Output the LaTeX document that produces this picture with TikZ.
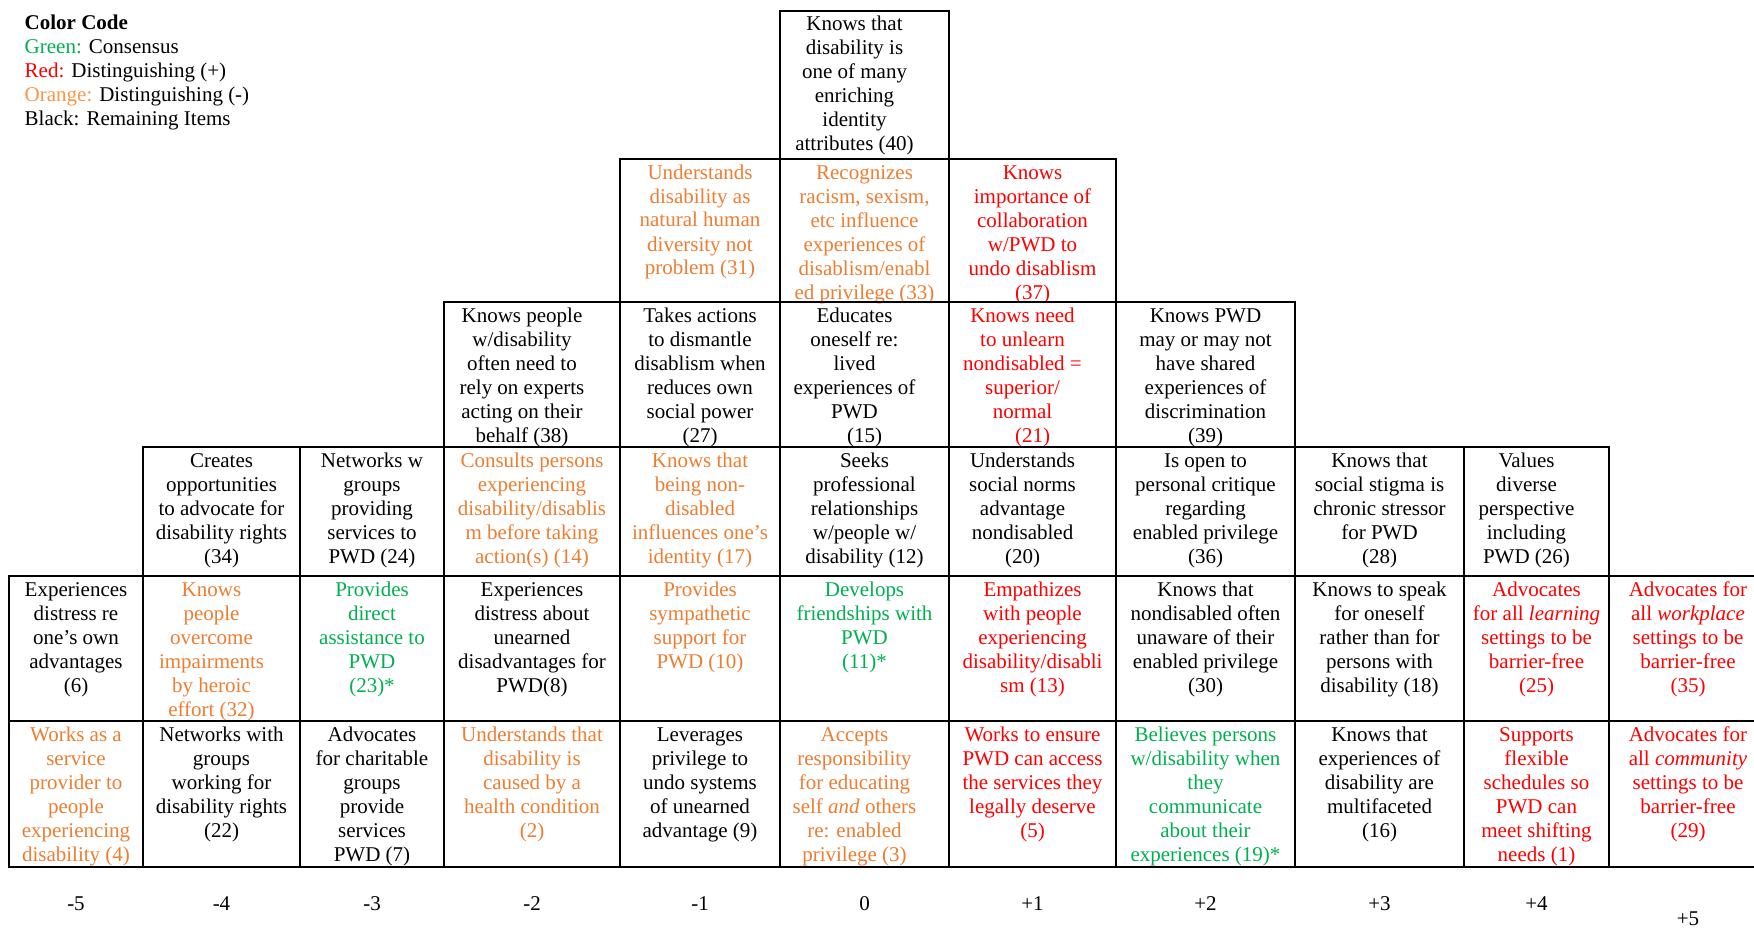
\documentclass[tikz,border=0pt]{standalone}
\usepackage{fontspec}
\setmainfont{Liberation Serif}
\definecolor{qgreen}{HTML}{00B050}
\definecolor{qred}{HTML}{FF0000}
\definecolor{qorange}{HTML}{ED7D31}
\definecolor{qlegorange}{HTML}{F79646}
\newcommand\qcell[5]{\node[cell,text=#4] (#1) at (#2,#3+3) {\strut #5};}
\begin{document}
\begin{tikzpicture}[x=1pt,y=-1pt,
  cell/.style={anchor=north,align=center,inner sep=0pt,font=\fontsize{21}{24}\selectfont},
  grid/.style={line width=2pt,black},
  lab/.style={anchor=base,inner sep=0pt,font=\fontsize{21}{24}\selectfont},
  leg/.style={anchor=base west,inner sep=0pt,font=\fontsize{21}{24}\selectfont}]
\useasboundingbox (0,0) rectangle (1754,928);
\clip (0,0) rectangle (1754,928);

% Legend
\node[leg] (legtitle) at (24.5,30) {\textbf{Color Code}};
\node[leg] (leggreen) at (24.5,54) {\textcolor{qgreen}{Green:} Consensus};
\node[leg] (legred) at (24.5,78) {\textcolor{qred}{Red:} Distinguishing (+)};
\node[leg] (legorange) at (24.5,102) {\textcolor{qlegorange}{Orange:} Distinguishing (-)};
\node[leg] (legblack) at (24.5,126) {Black: Remaining Items};

% Column -5
\qcell{n6}{76}{576}{black}{Experiences\\distress re\\one’s own\\advantages\\(6)}
\qcell{n4}{76}{721}{qorange}{Works as a\\service\\provider to\\people\\experiencing\\disability (4)}
% Column -4
\qcell{n34}{221.5}{447}{black}{Creates\\opportunities\\to advocate for\\disability rights\\(34)}
\qcell{n32}{211.5}{576}{qorange}{Knows\\people\\overcome\\impairments\\by heroic\\effort (32)}
\qcell{n22}{221.5}{721}{black}{Networks with\\groups\\working for\\disability rights\\(22)}
% Column -3
\qcell{n24}{372}{447}{black}{Networks w\\groups\\providing\\services to\\PWD (24)}
\qcell{n23}{372}{576}{qgreen}{Provides\\direct\\assistance to\\PWD\\(23)*}
\qcell{n7}{372}{721}{black}{Advocates\\for charitable\\groups\\provide\\services\\PWD (7)}
% Column -2
\qcell{n38}{522}{302}{black}{Knows people\\w/disability\\often need to\\rely on experts\\acting on their\\behalf (38)}
\qcell{n14}{532}{447}{qorange}{Consults persons\\experiencing\\disability/disablis\\m before taking\\action(s) (14)}
\qcell{n8}{532}{576}{black}{Experiences\\distress about\\unearned\\disadvantages for\\PWD(8)}
\qcell{n2}{532}{721}{qorange}{Understands that\\disability is\\caused by a\\health condition\\(2)}
% Column -1
\qcell{n31}{700}{159}{qorange}{Understands\\disability as\\natural human\\diversity not\\problem (31)}
\qcell{n27}{700}{302}{black}{Takes actions\\to dismantle\\disablism when\\reduces own\\social power\\(27)}
\qcell{n17}{700}{447}{qorange}{Knows that\\being non-\\disabled\\influences one’s\\identity (17)}
\qcell{n10}{700}{576}{qorange}{Provides\\sympathetic\\support for\\PWD (10)}
\qcell{n9}{700}{721}{black}{Leverages\\privilege to\\undo systems\\of unearned\\advantage (9)}
% Column 0
\qcell{n40}{854.5}{11}{black}{Knows that\\disability is\\one of many\\enriching\\identity\\attributes (40)}
\qcell{n33}{864.5}{159}{qorange}{Recognizes\\racism, sexism,\\etc influence\\experiences of\\disablism/enabl\\ed privilege (33)}
\qcell{n15}{854.5}{302}{black}{Educates\\oneself re:\\lived\\experiences of\\PWD\\\hspace*{20pt}(15)}
\qcell{n12}{864.5}{447}{black}{Seeks\\professional\\relationships\\w/people w/\\disability (12)}
\qcell{n11}{864.5}{576}{qgreen}{Develops\\friendships with\\PWD\\(11)*}
\qcell{n3}{854.5}{721}{qorange}{Accepts\\responsibility\\for educating\\self \textit{and} others\\re: enabled\\privilege (3)}
% Column +1
\qcell{n37}{1032.5}{159}{qred}{Knows\\importance of\\collaboration\\w/PWD to\\undo disablism\\(37)}
\qcell{n21}{1022.5}{302}{qred}{Knows need\\to unlearn\\nondisabled =\\superior/\\normal\\\hspace*{20pt}(21)}
\qcell{n20}{1022.5}{447}{black}{Understands\\social norms\\advantage\\nondisabled\\(20)}
\qcell{n13}{1032.5}{576}{qred}{Empathizes\\with people\\experiencing\\disability/disabli\\sm (13)}
\qcell{n5}{1032.5}{721}{qred}{Works to ensure\\PWD can access\\the services they\\legally deserve\\(5)}
% Column +2
\qcell{n39}{1205.5}{302}{black}{Knows PWD\\may or may not\\have shared\\experiences of\\discrimination\\(39)}
\qcell{n36}{1205.5}{447}{black}{Is open to\\personal critique\\regarding\\enabled privilege\\(36)}
\qcell{n30}{1205.5}{576}{black}{Knows that\\nondisabled often\\unaware of their\\enabled privilege\\(30)}
\qcell{n19}{1205.5}{721}{qgreen}{Believes persons\\w/disability when\\they\\communicate\\about their\\experiences (19)*}
% Column +3
\qcell{n28}{1379.5}{447}{black}{Knows that\\social stigma is\\chronic stressor\\for PWD\\(28)}
\qcell{n18}{1379.5}{576}{black}{Knows to speak\\for oneself\\rather than for\\persons with\\disability (18)}
\qcell{n16}{1379.5}{721}{black}{Knows that\\experiences of\\disability are\\multifaceted\\(16)}
% Column +4
\qcell{n26}{1526.5}{447}{black}{Values\\diverse\\perspective\\including\\PWD (26)}
\qcell{n25}{1536.5}{576}{qred}{Advocates\\for all \textit{learning}\\settings to be\\barrier-free\\(25)}
\qcell{n1}{1536.5}{721}{qred}{Supports\\flexible\\schedules so\\PWD can\\meet shifting\\needs (1)}
% Column +5
\qcell{n35}{1688}{576}{qred}{Advocates for\\all \textit{workplace}\\settings to be\\barrier-free\\(35)}
\qcell{n29}{1688}{721}{qred}{Advocates for\\all \textit{community}\\settings to be\\barrier-free\\(29)}

% Grid
\draw[grid] (780,11) rectangle (949,159);
\draw[grid] (620,159) rectangle (1116,302);
\foreach \x in {780,949} \draw[grid] (\x,159) -- (\x,302);
\draw[grid] (444,302) rectangle (1295,447);
\foreach \x in {620,780,949,1116} \draw[grid] (\x,302) -- (\x,447);
\draw[grid] (143,447) rectangle (1609,576);
\foreach \x in {300,444,620,780,949,1116,1295,1464} \draw[grid] (\x,447) -- (\x,576);
\draw[grid] (9,576) rectangle (1767,867);
\draw[grid] (9,721) -- (1767,721);
\foreach \x in {143,300,444,620,780,949,1116,1295,1464,1609} \draw[grid] (\x,576) -- (\x,867);

% Column labels
\node[lab] (lm5) at (76,910) {-5};
\node[lab] (lm4) at (221.5,910) {-4};
\node[lab] (lm3) at (372,910) {-3};
\node[lab] (lm2) at (532,910) {-2};
\node[lab] (lm1) at (700,910) {-1};
\node[lab] (l0) at (864.5,910) {0};
\node[lab] (lp1) at (1032.5,910) {+1};
\node[lab] (lp2) at (1205.5,910) {+2};
\node[lab] (lp3) at (1379.5,910) {+3};
\node[lab] (lp4) at (1536.5,910) {+4};
\node[lab] (lp5) at (1688,925) {+5};
\end{tikzpicture}
\end{document}
